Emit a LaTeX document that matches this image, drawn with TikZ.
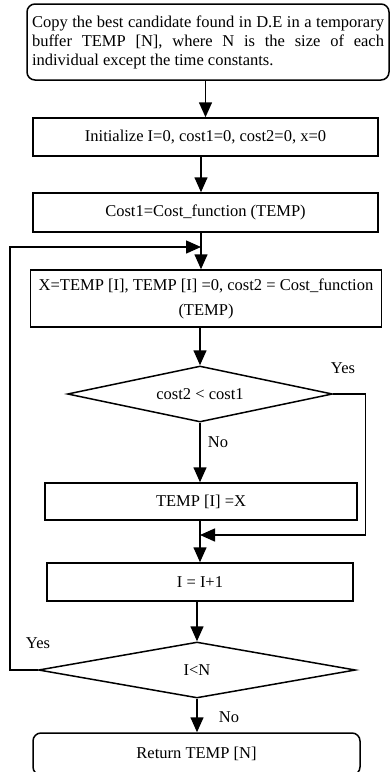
\documentclass[tikz,border=0pt]{standalone}
\usepackage{fontspec}
\setmainfont{Liberation Serif}
\usetikzlibrary{shapes.geometric,arrows.meta}
\tikzset{%
  stepnode/.style = {shape=rectangle, draw, align=center, line width=1.5pt,%
                     inner sep=2pt, font=\fontsize{16.5}{19}\selectfont},%
  procbox/.style  = {stepnode, minimum height=38pt},%
  termbox/.style  = {stepnode, rounded corners=8pt},%
  decision/.style = {stepnode, shape=diamond, aspect=4.7, inner sep=0pt,%
                     minimum height=56pt},%
  flow/.style     = {line width=1.5pt, -{Triangle[length=15pt,width=13pt]}},%
  link/.style     = {line width=1.5pt},%
  tag/.style      = {inner sep=0pt, font=\fontsize{16.5}{19}\selectfont}%
}
\begin{document}
\begin{tikzpicture}[x=1pt, y=-1pt]
  \useasboundingbox (0,0) rectangle (389,772);
  % -------------- boxes of the flow --------------------------------------
  \node [termbox, minimum width=362pt, minimum height=76pt,
         text width=352pt, align=justify] (copy) at (208,42)
    {Copy the best candidate found in D.E in a temporary\linebreak
     buffer TEMP [N], where N is the size of each\linebreak
     individual except the time constants.};
  \node [procbox, minimum width=345pt] (init) at (205.5,137)
    {Initialize I=0, cost1=0, cost2=0, x=0};
  \node [procbox, minimum width=345pt, minimum height=39pt] (cost1) at (205.5,212.5)
    {Cost1=Cost\_function (TEMP)};
  \node [procbox, minimum width=351pt, minimum height=57pt] (body) at (206,298.5)
    {X=TEMP [I], TEMP [I] =0, cost2 = Cost\_function\\[6pt](TEMP)};
  \node [decision, minimum width=265pt] (test) at (200,394) {cost2 < cost1};
  \node [procbox, minimum width=312pt, minimum height=37pt] (swap) at (201,501.5)
    {TEMP [I] =X};
  \node [procbox, minimum width=306pt] (incr) at (200,582) {I = I+1};
  \node [decision, minimum width=317pt] (more) at (197,670) {I<N};
  \node [termbox, minimum width=327pt, minimum height=42pt] (ret) at (196.5,754)
    {Return TEMP [N]};
  % --------- joints and labels ---------------------------------------
  \coordinate (loopin) at (201,247);
  \coordinate (merge) at (200,535);
  \node [tag] (yes1) at (343,368) {Yes};
  \node [tag] (no1) at (218,442) {No};
  \node [tag] (yes2) at (38,643) {Yes};
  \node [tag] (no2) at (229,717) {No};
  % --------- connectors ---------------------------------------
  \draw [flow] (copy.south -| init.north) -- (init.north);
  \draw [flow] (init.south -| loopin) -- (cost1.north -| loopin);
  \draw [flow] (cost1.south -| loopin) -- (body.north -| loopin);
  \draw [flow] (body.south -| test.north) -- (test.north);
  \draw [flow] (test.south) -- (swap.north -| test.south);
  \draw [link] (swap.south -| merge) -- (merge);
  \draw [flow] (merge) -- (incr.north);
  \draw [flow] (incr.south -| more.north) -- (more.north);
  \draw [flow] (more.south) -- (ret.north -| more.south);
  \draw [flow] (test.east) -- ++(32,0) |- (merge);
  \draw [flow] (more.west) -- ++(-28,0) |- (loopin);
\end{tikzpicture}
\end{document}
